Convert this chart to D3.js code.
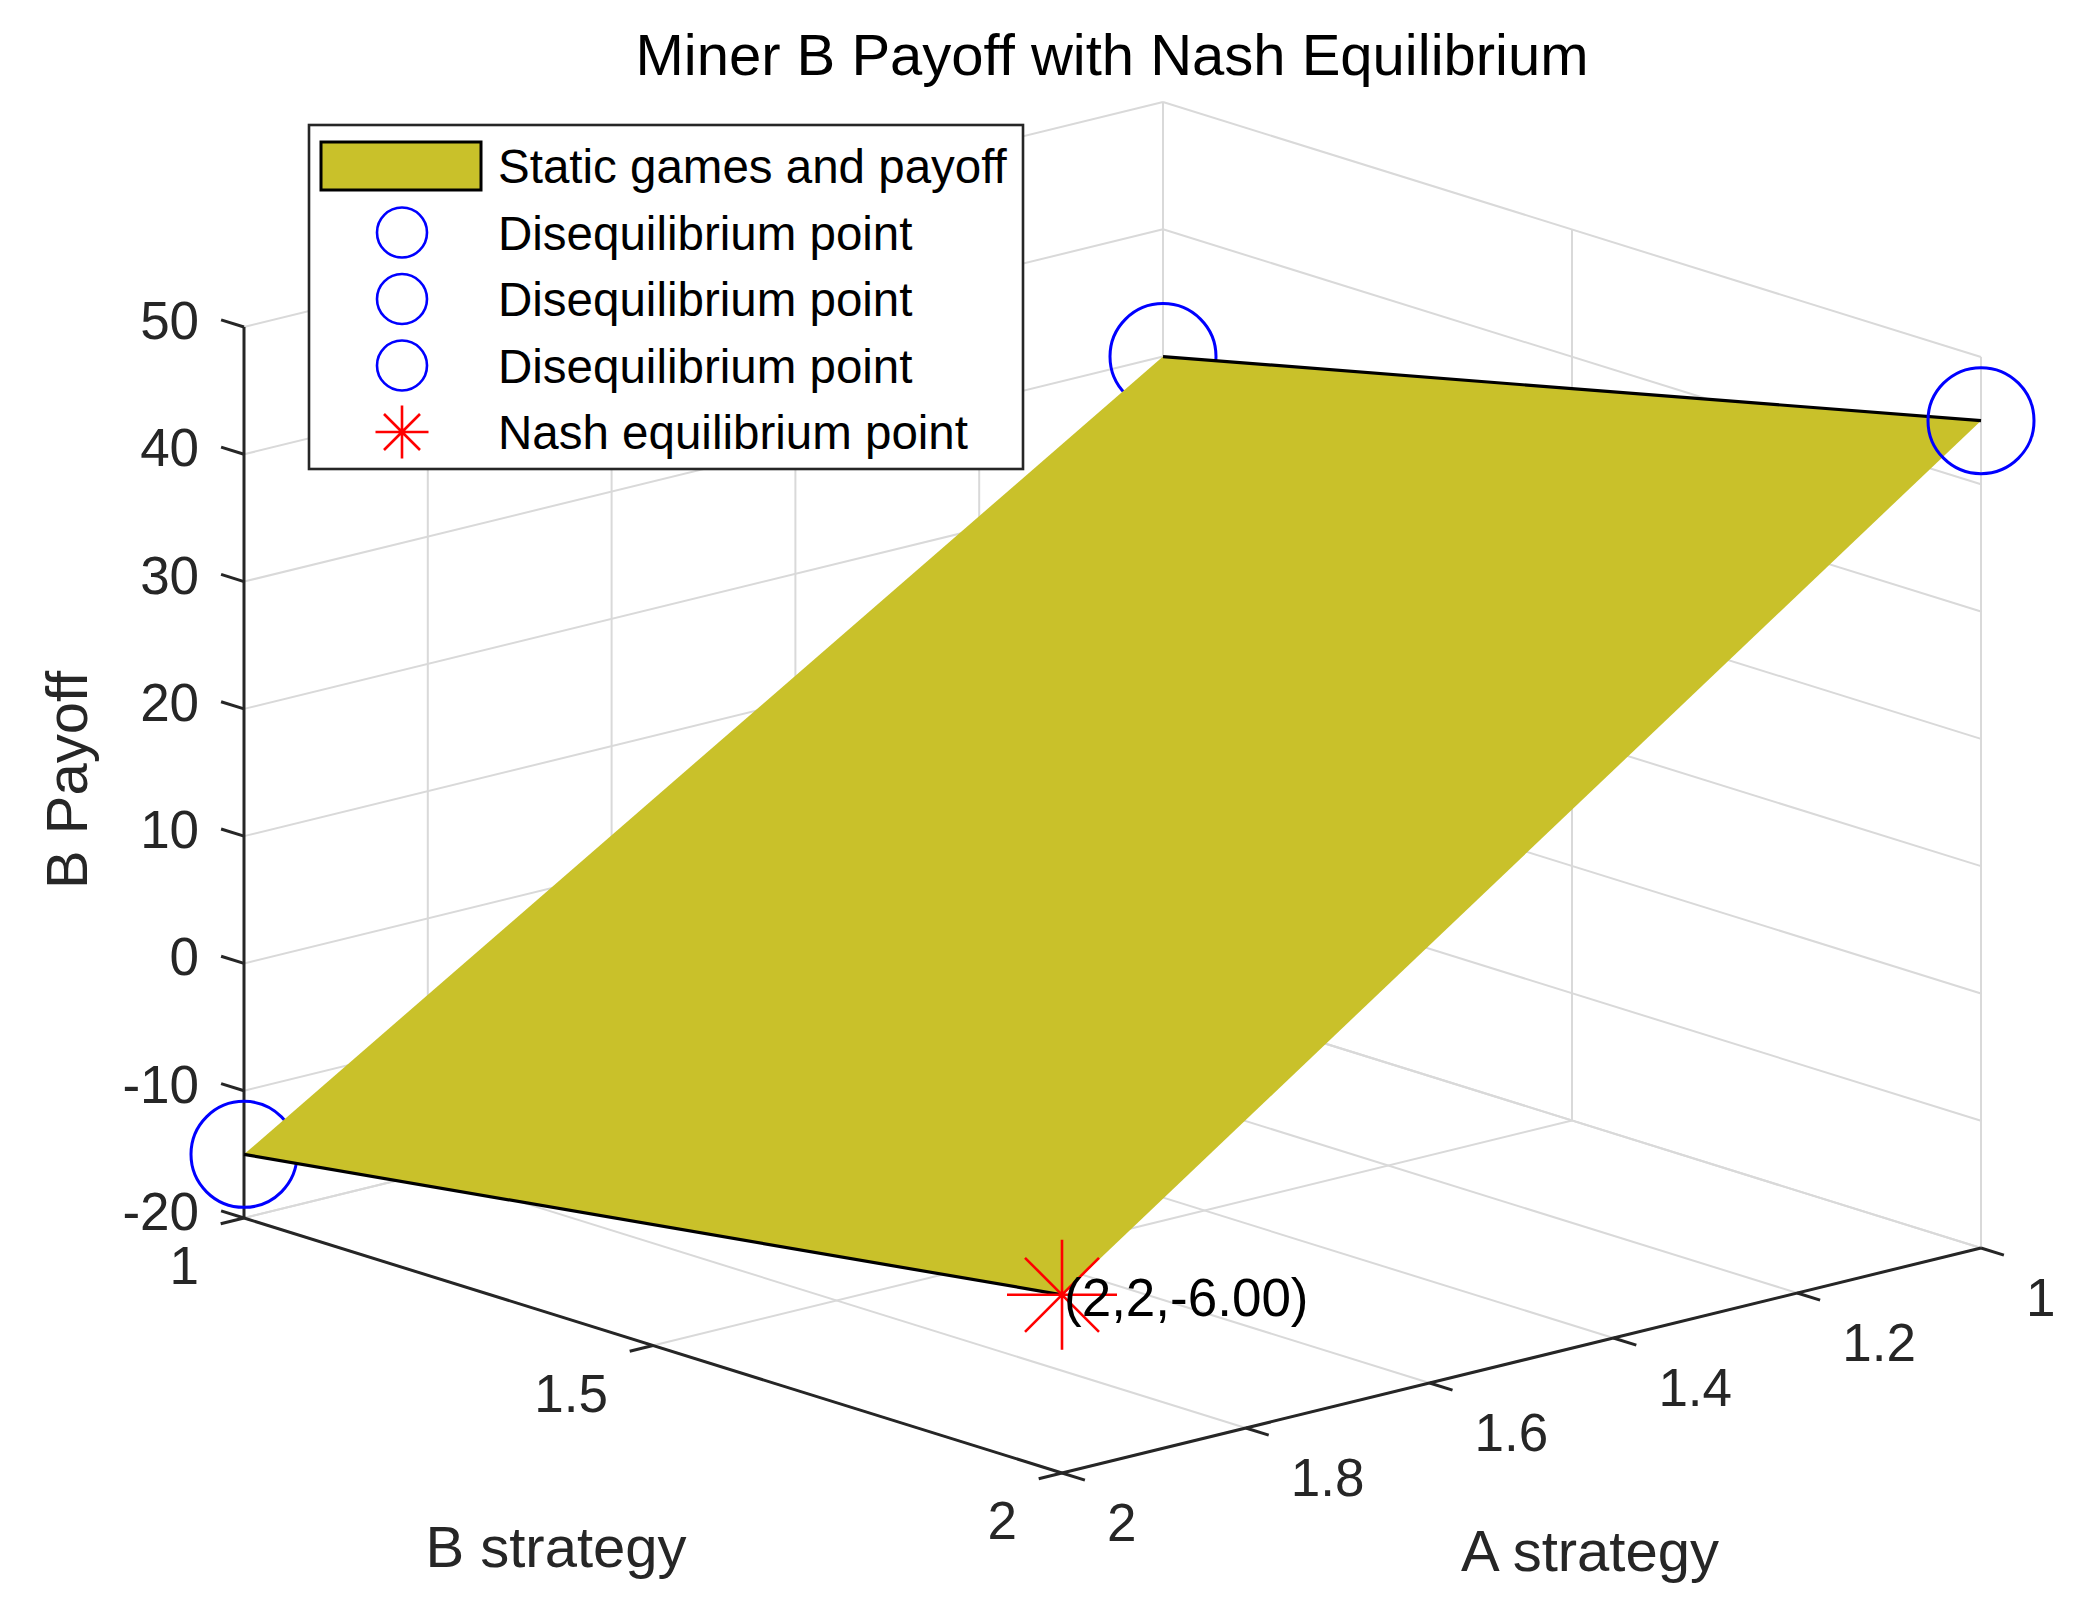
<!DOCTYPE html>
<html>
<head>
<meta charset="utf-8">
<script src="https://cdn.jsdelivr.net/npm/d3@7"></script>
<style>
  body { margin: 0; background: #fff; }
  text { font-family: "Liberation Sans", Arial, Helvetica, sans-serif; fill: #262626; }
</style>
</head>
<body>
<div id="chart"></div>
<script>

const aTicks = [1, 1.2, 1.4, 1.6, 1.8, 2]
const bTicks = [1, 1.5, 2]
const zTicks = [-20, -10, 0, 10, 20, 30, 40, 50]

// surface corners: [A strategy, B strategy, B payoff]
const surfacePoints = [[2, 1, -15], [2, 2, -6], [1, 2, 45], [1, 1, 30]]
const disequilibrium = [[2, 1, -15], [1, 1, 30], [1, 2, 45]]
const nash = [2, 2, -6]

const legendLabels = ["Static games and payoff", "Disequilibrium point", "Disequilibrium point", "Disequilibrium point", "Nash equilibrium point"]

let width = 2086
let height = 1624

let svg = d3.select("#chart")
  .append("svg")
  .attr("width", width)
  .attr("height", height)

svg.append("rect").attr("width", width).attr("height", height).attr("fill", "#fff")

// oblique projection of the matlab box
let aScale = d3.scaleLinear().domain([2, 1]).range([0, 1])
let bScale = d3.scaleLinear().domain([1, 2]).range([0, 1])
let zScale = d3.scaleLinear().domain([-20, 50]).range([0, 1])
let origin = [244, 1218]
let vecA = [919, -225]
let vecB = [818, 255]
let vecZ = [0, -891]

let P = (a, b, z) => {
  let ta = aScale(a), tb = bScale(b), tz = zScale(z)
  return [origin[0] + ta * vecA[0] + tb * vecB[0] + tz * vecZ[0],
          origin[1] + ta * vecA[1] + tb * vecB[1] + tz * vecZ[1]]
}
let unit = (p, q) => {
  let dx = q[0] - p[0], dy = q[1] - p[1], l = Math.hypot(dx, dy)
  return [dx / l, dy / l]
}

let line = d3.line()
let zMin = zTicks[0], zMax = zTicks[zTicks.length - 1]

// grid
let grid = svg.append("g")
  .attr("stroke", "#d9d9d9")
  .attr("stroke-width", 2)
  .attr("fill", "none")

let gridLines = []
aTicks.forEach(a => gridLines.push([P(a, 1, zMin), P(a, 2, zMin)]))
bTicks.forEach(b => gridLines.push([P(2, b, zMin), P(1, b, zMin)]))
aTicks.forEach(a => gridLines.push([P(a, 1, zMin), P(a, 1, zMax)]))
zTicks.forEach(z => gridLines.push([P(2, 1, z), P(1, 1, z)]))
bTicks.forEach(b => gridLines.push([P(1, b, zMin), P(1, b, zMax)]))
zTicks.forEach(z => gridLines.push([P(1, 1, z), P(1, 2, z)]))

grid.selectAll("path")
  .data(gridLines)
  .enter()
  .append("path")
  .attr("d", d => line(d))

// axes
let axisColor = "#262626"
let tickLen = 24
let axes = svg.append("g")
  .attr("stroke", axisColor)
  .attr("stroke-width", 3)
  .attr("fill", "none")

axes.append("path").attr("d", line([P(2, 1, zMin), P(2, 1, zMax)]))
axes.append("path").attr("d", line([P(2, 1, zMin), P(2, 2, zMin)]))
axes.append("path").attr("d", line([P(2, 2, zMin), P(1, 2, zMin)]))

let zDir = unit(P(2, 2, zMin), P(2, 1, zMin))
let bDir = unit(P(1, 1, zMin), P(2, 1, zMin))
let aDir = unit(P(1, 1, zMin), P(1, 2, zMin))

axes.selectAll(".ztick")
  .data(zTicks)
  .enter()
  .append("path")
  .attr("class", "ztick")
  .attr("d", d => { let p = P(2, 1, d); return line([p, [p[0] + zDir[0] * tickLen, p[1] + zDir[1] * tickLen]]) })

axes.selectAll(".btick")
  .data(bTicks)
  .enter()
  .append("path")
  .attr("class", "btick")
  .attr("d", d => { let p = P(2, d, zMin); return line([p, [p[0] + bDir[0] * tickLen, p[1] + bDir[1] * tickLen]]) })

axes.selectAll(".atick")
  .data(aTicks)
  .enter()
  .append("path")
  .attr("class", "atick")
  .attr("d", d => { let p = P(d, 2, zMin); return line([p, [p[0] + aDir[0] * tickLen, p[1] + aDir[1] * tickLen]]) })

// tick labels
let tickFont = 53
svg.selectAll(".zlabel")
  .data(zTicks)
  .enter()
  .append("text")
  .attr("class", "zlabel")
  .attr("x", d => P(2, 1, d)[0] + zDir[0] * tickLen - 22)
  .attr("y", d => P(2, 1, d)[1] + zDir[1] * tickLen)
  .attr("dy", "0.36em")
  .attr("text-anchor", "end")
  .style("font-size", tickFont + "px")
  .text(d => d)

svg.selectAll(".blabel")
  .data(bTicks)
  .enter()
  .append("text")
  .attr("class", "blabel")
  .attr("x", d => P(2, d, zMin)[0] - 45)
  .attr("y", d => P(2, d, zMin)[1] + 47)
  .attr("dy", "0.36em")
  .attr("text-anchor", "end")
  .style("font-size", tickFont + "px")
  .text(d => d)

svg.selectAll(".alabel")
  .data(aTicks)
  .enter()
  .append("text")
  .attr("class", "alabel")
  .attr("x", d => P(d, 2, zMin)[0] + 45)
  .attr("y", d => P(d, 2, zMin)[1] + 49)
  .attr("dy", "0.36em")
  .attr("text-anchor", "start")
  .style("font-size", tickFont + "px")
  .text(d => d)

// markers behind the surface
let circleR = 53
let ptOf = d => P(d[0], d[1], d[2])
let behind = disequilibrium.filter(d => !(d[0] === 1 && d[1] === 2))
let infront = disequilibrium.filter(d => d[0] === 1 && d[1] === 2)

let drawCircles = (g, data) => g.selectAll("circle")
  .data(data)
  .enter()
  .append("circle")
  .attr("cx", d => ptOf(d)[0])
  .attr("cy", d => ptOf(d)[1])
  .attr("r", circleR)
  .attr("fill", "none")
  .attr("stroke", "#0000ff")
  .attr("stroke-width", 3)

drawCircles(svg.append("g"), behind)

// surface
let surfColor = "#c9c12a"
svg.append("path")
  .attr("d", line(surfacePoints.map(ptOf)) + "Z")
  .attr("fill", surfColor)
  .attr("stroke", "none")

svg.append("path")
  .attr("d", line([ptOf(surfacePoints[0]), ptOf(surfacePoints[1])]))
  .attr("stroke", "#000")
  .attr("stroke-width", 3.2)
svg.append("path")
  .attr("d", line([ptOf(surfacePoints[3]), ptOf(surfacePoints[2])]))
  .attr("stroke", "#000")
  .attr("stroke-width", 3.2)

drawCircles(svg.append("g"), infront)

// nash star
let starPath = (cx, cy, r, rd) => "M" + (cx - r) + "," + cy + "H" + (cx + r)
  + "M" + cx + "," + (cy - r) + "V" + (cy + r)
  + "M" + (cx - rd) + "," + (cy - rd) + "L" + (cx + rd) + "," + (cy + rd)
  + "M" + (cx - rd) + "," + (cy + rd) + "L" + (cx + rd) + "," + (cy - rd)

let np = ptOf(nash)
svg.append("path")
  .attr("d", starPath(np[0], np[1], 55, 37))
  .attr("stroke", "#ff0000")
  .attr("stroke-width", 2.6)
  .attr("fill", "none")

svg.append("text")
  .attr("x", np[0] + 2)
  .attr("y", np[1] + 2)
  .attr("dy", "0.36em")
  .style("font-size", tickFont + "px")
  .style("fill", "#000")
  .text("(" + nash[0] + "," + nash[1] + "," + nash[2].toFixed(2) + ")")

// axis labels and title
let labelFont = 58
svg.append("text")
  .attr("x", 556).attr("y", 1546).attr("dy", "0.36em")
  .attr("text-anchor", "middle")
  .style("font-size", labelFont + "px")
  .text("B strategy")

svg.append("text")
  .attr("x", 1590).attr("y", 1550).attr("dy", "0.36em")
  .attr("text-anchor", "middle")
  .style("font-size", labelFont + "px")
  .text("A strategy")

svg.append("text")
  .attr("transform", "translate(66,780) rotate(-90)")
  .attr("dy", "0.36em")
  .attr("text-anchor", "middle")
  .style("font-size", labelFont + "px")
  .text("B Payoff")

svg.append("text")
  .attr("x", 1112).attr("y", 75)
  .attr("text-anchor", "middle")
  .style("font-size", labelFont + "px")
  .style("fill", "#000")
  .text("Miner B Payoff with Nash Equilibrium")

// legend
let legend = svg.append("g")
legend.append("rect")
  .attr("x", 309).attr("y", 125)
  .attr("width", 714).attr("height", 344)
  .attr("fill", "#fff")
  .attr("stroke", axisColor)
  .attr("stroke-width", 2.6)

let rowY = i => 166 + 66.5 * i
let mx = 402

legend.append("rect")
  .attr("x", 321).attr("y", rowY(0) - 24)
  .attr("width", 160).attr("height", 48)
  .attr("fill", surfColor)
  .attr("stroke", "#000")
  .attr("stroke-width", 3)

legend.selectAll("circle")
  .data([1, 2, 3])
  .enter()
  .append("circle")
  .attr("cx", mx)
  .attr("cy", d => rowY(d))
  .attr("r", 25)
  .attr("fill", "none")
  .attr("stroke", "#0000ff")
  .attr("stroke-width", 2.6)

legend.append("path")
  .attr("d", starPath(mx, rowY(4), 26.5, 18))
  .attr("stroke", "#ff0000")
  .attr("stroke-width", 2.6)
  .attr("fill", "none")

legend.selectAll(".legtext")
  .data(legendLabels)
  .enter()
  .append("text")
  .attr("class", "legtext")
  .attr("x", 498)
  .attr("y", (d, i) => rowY(i))
  .attr("dy", "0.36em")
  .style("font-size", "47.5px")
  .style("fill", "#000")
  .text(d => d)

</script>
</body>
</html>
